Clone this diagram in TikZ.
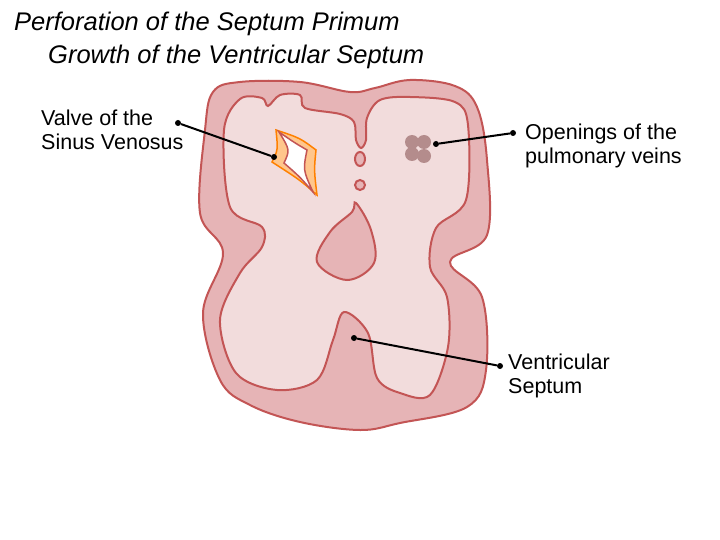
\documentclass[tikz,border=0pt]{standalone}
\usepackage{fontspec}
\setmainfont{Liberation Sans}
\begin{document}
\begin{tikzpicture}[x=1pt,y=-1pt,
  lbl/.style={anchor=west,align=left,font=\fontsize{21.5}{24}\selectfont,inner sep=0pt},
  ttl/.style={anchor=west,font=\fontsize{25.5}{24}\selectfont\itshape,inner sep=0pt},
  pt/.style={circle,fill=black,inner sep=0pt,minimum size=6pt},
  ln/.style={line width=2pt}]
\definecolor{outerc}{RGB}{230,180,182}
\definecolor{innerc}{RGB}{242,220,220}
\definecolor{edge}{RGB}{195,85,85}
\definecolor{vein}{RGB}{180,140,140}
\useasboundingbox (0,0) rectangle (720,540);
\fill[white] (0,0) rectangle (720,540);
% outer
\draw[draw=edge,line width=2pt,fill=outerc] plot[smooth cycle,tension=0.6] coordinates {
 (213,92) (240,82) (300,82) (350,92) (375,88) (410,80) (455,86) (477,107)
 (487,160) (487,235) (450,262) (482,297) (486,370) (467,407) (400,423) (360,430)
 (300,422) (250,405) (220,380) (203,313) (223,253) (200,213) (205,130)};
% inner cavity
\draw[draw=edge,line width=2pt,fill=innerc] plot[smooth cycle,tension=0.55] coordinates {
 (240,99) (262,98) (268,106) (280,95) (300,95) (305,108) (340,114) (354,122)
 (356,140) (361,148) (366,140) (367,118) (380,100) (410,97) (455,102) (468,125)
 (466,200) (436,228) (430,267) (447,297) (448,347) (430,395) (400,393) (377,378)
 (368,333) (344,312) (333,340) (317,380) (277,390) (236,373) (220,320) (240,273)
 (262,247) (262,227) (230,207) (224,130)};
% cushion
\draw[draw=edge,line width=2pt,fill=outerc] plot[smooth cycle,tension=0.6] coordinates {
 (356,203) (371,230) (374,263) (347,280) (317,262) (330,232) (352,212)};
% ovals
\draw[edge,line width=2pt,fill=outerc] (360,159) ellipse (5 and 7);
\draw[edge,line width=2pt,fill=outerc] (360,185) ellipse (5 and 5);
% valve
\draw[orange,fill=orange!45,line width=1.5pt] (276,130) .. controls (300,138) .. (316,150) .. controls (314,170) .. (317,195) .. controls (300,180) .. (272,162) .. controls (278,150) .. (276,130) -- cycle;
\draw[edge,fill=white,line width=1.5pt] (279,132) .. controls (295,143) .. (307,150) .. controls (303,170) .. (313,192) .. controls (300,177) .. (284,163) .. controls (290,150) .. (279,132) -- cycle;
% pulmonary veins
\foreach \p in {(412,142),(424,142),(412,154),(424,156)}
  \fill[vein] \p circle (7);
% labels
\node[ttl] (t1) at (14,24) {Perforation of the Septum Primum};
\node[ttl] (t2) at (48,57) {Growth of the Ventricular Septum};
\node[lbl] (l1) at (41,130) {Valve of the\\Sinus Venosus};
\node[lbl] (l2) at (525,146) {Openings of the\\pulmonary veins};
\node[lbl] (l3) at (508,376) {Ventricular\\Septum};
\node[pt] (a1) at (178,123) {}; \node[pt] (b1) at (274,157) {};
\node[pt] (a2) at (513,133) {}; \node[pt] (b2) at (436,144) {};
\node[pt] (a3) at (500,366) {}; \node[pt] (b3) at (354,338) {};
\draw[ln] (a1) -- (b1); \draw[ln] (a2) -- (b2); \draw[ln] (a3) -- (b3);
\end{tikzpicture}
\end{document}
